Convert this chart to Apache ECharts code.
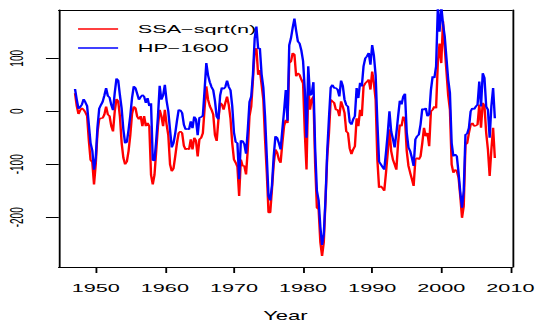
<!DOCTYPE html>
<html><head><meta charset="utf-8">
<script src="https://cdn.jsdelivr.net/npm/echarts@6/dist/echarts.min.js"></script>
<style>
html,body{margin:0;padding:0;background:#fff;overflow:hidden}
#wrap{width:540px;height:327px;overflow:hidden;position:relative}
#c{width:294px;height:327px;transform:scaleX(1.83673);transform-origin:0 0;position:absolute;left:0;top:0}
</style></head><body><div id="wrap"><div id="c"></div></div>
<script>
const startYear = 1947;           // first quarter of the series (1947 Q1)
const xTicks = [1950, 1960, 1970, 1980, 1990, 2000, 2010];
const yTicks = [-200, -100, 0, 100];
const seriesNames = ['SSA\u2212sqrt(n)', 'HP\u22121600'];
const xTitle = 'Year';

const ssa = [
  34,10,-5,2,6,3,-2,-9,-55,-92,
  -96,-138,-100,-40,-15,-13,-13,-6,9,-6,
  -9,-28,-38,0,23,19,-10,-60,-88,-100,
  -95,-75,-45,-5,9,6,-10,-15,-9,-28,
  -9,-28,-22,-28,-120,-138,-120,-75,-28,3,
  -9,-28,3,-25,-45,-100,-113,-108,-85,-60,
  -41,-38,-41,-65,-72,-70,-72,-53,-72,-50,
  -55,-85,-53,-50,-41,5,47,22,10,3,
  -6,-45,-56,-16,16,13,3,16,28,12,
  -14,-60,-91,-97,-105,-160,-91,-103,-103,-119,
  -72,-9,9,60,116,119,69,78,50,22,
  -53,-116,-191,-191,-147,-100,-72,-78,-91,-97,
  -60,-28,-16,-22,91,94,110,107,66,72,
  69,60,53,-40,-110,47,3,22,28,-100,
  -182,-185,-247,-273,-247,-167,-85,-41,22,19,
  16,3,3,-9,19,9,-3,-38,-41,-70,
  -81,-72,-66,-13,-28,3,-9,47,53,56,
  60,41,75,53,22,-91,-144,-141,-145,-150,
  -116,-78,-34,-75,-91,-100,-110,-60,-25,-28,
  -10,-15,-75,-103,-116,-128,-141,-91,-88,-91,
  -85,-60,-31,-47,-41,-66,0,3,9,6,
  91,128,91,170,120,75,30,3,-100,-116,
  -110,-113,-125,-160,-201,-179,-63,-60,-41,-25,
  -22,-28,-27,-25,13,-31,16,10,-41,-72,
  -122,-72,-31,-88
];

const hp = [
  42,22,5,8,13,23,17,10,-25,-60,
  -74,-110,-88,-30,5,12,18,30,44,29,
  26,12,2,35,62,58,30,5,-35,-60,
  -58,-35,-8,25,47,44,33,22,27,31,
  28,16,25,10,15,-92,-93,-55,-10,48,
  22,30,50,20,0,-35,-68,-60,-42,-18,
  3,2,-3,-25,-34,-33,-34,-19,-32,-10,
  -15,-45,-12,-11,-8,40,91,68,55,46,
  40,20,-10,-15,30,45,42,46,58,46,
  40,10,-40,-58,-60,-128,-55,-56,-62,-80,
  -35,18,28,70,138,160,118,119,70,45,
  -10,-85,-160,-168,-140,-85,-47,-50,-60,-72,
  -35,0,40,-18,125,138,158,175,152,132,
  128,115,95,40,-50,85,30,33,55,-70,
  -150,-168,-218,-252,-232,-165,-75,-12,45,50,
  44,44,41,28,58,48,22,12,9,-20,
  -25,-15,-9,44,25,54,47,85,100,104,
  110,88,125,105,68,-20,-95,-100,-105,-110,
  -78,-42,0,-38,-52,-68,-42,-10,20,13,
  28,33,-40,-68,-75,-88,-103,-53,-47,-44,
  -25,5,3,6,-9,-6,40,66,63,85,
  195,150,198,165,141,100,60,35,-60,-85,
  -81,-85,-116,-153,-182,-150,-44,-42,-31,0,
  6,4,9,13,56,9,72,63,9,3,
  -50,10,44,-13
];

const toPairs = arr => arr.map((v, i) => [startYear + i / 4, v]);
const font = 'Liberation Sans, Arial, Helvetica, sans-serif';
const X_MIN = 1944.65, X_MAX = 2010.24, Y_MIN = -293.8, Y_MAX = 191.2;
const frameAxis = {
  axisLine: {show: true, onZero: false, lineStyle: {color: '#000', width: 1}},
  axisTick: {show: false}, axisLabel: {show: false}, splitLine: {show: false}
};

const chart = echarts.init(document.getElementById('c'), null, {renderer: 'svg'});
chart.setOption({
  animation: false,
  backgroundColor: '#fff',
  grid: {left: 32, right: 13, top: 10, bottom: 59, show: false},
  legend: {
    orient: 'vertical', left: 42.5, top: 23, padding: 0,
    itemWidth: 21.8, itemHeight: 1.3, itemGap: 7, icon: 'rect',
    textStyle: {fontSize: 11.8, color: '#000', fontFamily: font, padding: [0, 0, 0, 5.7]},
    data: seriesNames
  },
  xAxis: [{
    type: 'value', min: X_MIN, max: X_MAX, position: 'bottom',
    axisLine: {show: true, onZero: false, lineStyle: {color: '#000', width: 1}},
    splitLine: {show: false},
    axisTick: {show: true, customValues: xTicks, length: 6, lineStyle: {color: '#000', width: 1}},
    axisLabel: {customValues: xTicks, margin: 15, fontSize: 11.8, color: '#000', fontFamily: font,
                formatter: v => String(v)},
    name: xTitle, nameLocation: 'middle', nameGap: 43,
    nameTextStyle: {fontSize: 12, color: '#000', fontFamily: font}
  }, Object.assign({type: 'value', min: X_MIN, max: X_MAX, position: 'top'}, frameAxis)],
  yAxis: [{
    type: 'value', min: Y_MIN, max: Y_MAX, position: 'left',
    axisLine: {show: true, onZero: false, lineStyle: {color: '#000', width: 1}},
    splitLine: {show: false},
    axisTick: {show: true, customValues: yTicks, length: 7, lineStyle: {color: '#000', width: 1}},
    axisLabel: {customValues: yTicks, rotate: 90, margin: 18, fontSize: 10, color: '#000', fontFamily: font,
                formatter: v => String(v)}
  }, Object.assign({type: 'value', min: Y_MIN, max: Y_MAX, position: 'right'}, frameAxis)],
  series: [
    {name: seriesNames[0], type: 'line', data: toPairs(ssa), symbol: 'none', showSymbol: false,
     lineStyle: {color: '#ff0000', width: 1.3}, itemStyle: {color: '#ff0000'}, clip: true},
    {name: seriesNames[1], type: 'line', data: toPairs(hp), symbol: 'none', showSymbol: false,
     lineStyle: {color: '#0000ff', width: 1.3}, itemStyle: {color: '#0000ff'}, clip: true}
  ]
});
</script></body></html>
